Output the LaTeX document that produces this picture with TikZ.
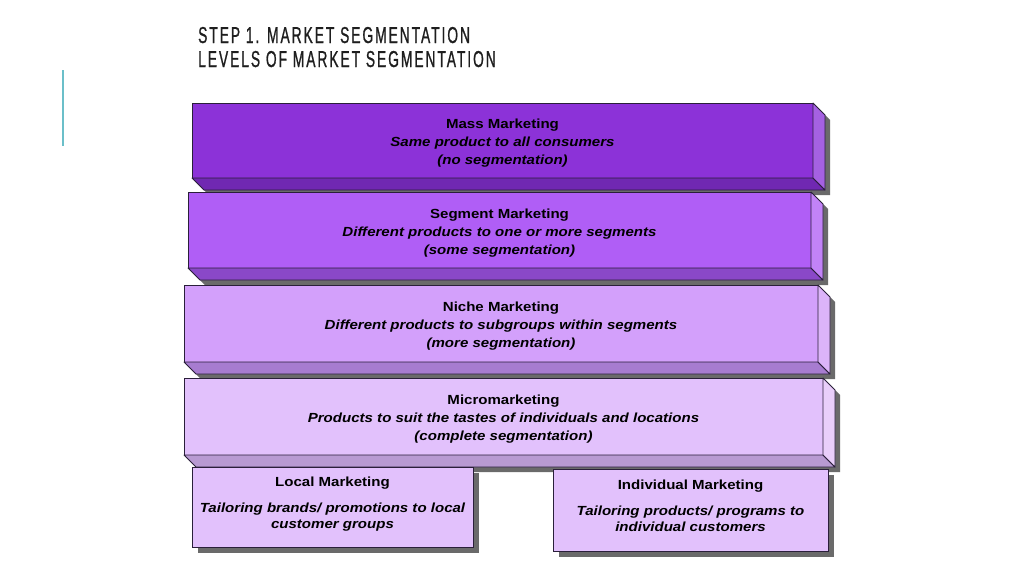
\documentclass[tikz,border=0pt]{standalone}
\usepackage{fontspec}
\setmainfont{Liberation Sans}
\newfontfamily\boxfont[FakeStretch=1.14]{Liberation Sans}
\newfontfamily\ttlfont[FakeStretch=0.6,LetterSpace=8.5,FakeBold=0.8]{Liberation Sans}
\definecolor{edgec}{HTML}{2A1F3A}
\definecolor{shadowc}{HTML}{6A6A6A}
\definecolor{titlec}{HTML}{1E1E1E}
\definecolor{tealc}{HTML}{6BBFC9}
\definecolor{fA}{HTML}{8C32D8}\definecolor{sA}{HTML}{A561E2}\definecolor{bA}{HTML}{7028B2}
\definecolor{fB}{HTML}{B05EF6}\definecolor{sB}{HTML}{C283F7}\definecolor{bB}{HTML}{8A48C8}
\definecolor{fC}{HTML}{D3A0FB}\definecolor{sC}{HTML}{DCB4F9}\definecolor{bC}{HTML}{A77CD0}
\definecolor{fD}{HTML}{E2C1FC}\definecolor{sD}{HTML}{E9CEFA}\definecolor{bD}{HTML}{B89AD2}
\tikzset{
  slab/.style={draw=edgec, line width=0.8pt, inner sep=0pt, outer sep=0pt},
  slabtext/.style={inner sep=0pt, align=center, text=black,
    font=\boxfont\bfseries\fontsize{13.2}{18}\selectfont},
  flatbox/.style={draw=edgec, line width=0.8pt, inner sep=0pt, outer sep=0pt, fill=fD},
  flattext/.style={inner sep=0pt, align=center, text=black,
    font=\boxfont\bfseries\fontsize{13.2}{16}\selectfont},
  face/.style={draw=edgec, line width=0.8pt, line join=round},
  ttl/.style={anchor=base west, inner sep=0pt, text=titlec, font=\ttlfont\fontsize{23}{24}\selectfont}
}
% #1 name, #2 x1, #3 y1, #4 x2, #5 y2, #6 front, #7 side, #8 bottom, #9 text
\newcommand\slab[9]{%
  \fill[shadowc] (#4+5,#3+5) -- (#4+17,#3+17) -- (#4+17,#5+17) -- (#2+17,#5+17) -- (#2+5,#5+5) -- cycle;
  \node[slab, fill=#6, minimum width={(#4-#2)*1pt}, minimum height={(#5-#3)*1pt}]
     (#1) at ({(#2+#4)/2},{(#3+#5)/2}) {};
  \draw[face, fill=#8] (#1.south west) -- (#1.south east)
     -- ([xshift=12pt,yshift=-12pt]#1.south east)
     -- ([xshift=12pt,yshift=-12pt]#1.south west) -- cycle;
  \draw[face, fill=#7] (#1.north east) -- ([xshift=12pt,yshift=-12pt]#1.north east)
     -- ([xshift=12pt,yshift=-12pt]#1.south east) -- (#1.south east) -- cycle;
  \node[slabtext] (#1-t) at ([yshift=-3pt]#1.center) {#9};
}
\begin{document}
\begin{tikzpicture}[x=1pt,y=-1pt]
\useasboundingbox[fill=white] (0,0) rectangle (1024,576);

% title
\node[ttl] (t1) at (198,43) {STEP 1. MARKET SEGMENTATION};
\node[ttl] (t2) at (198,67) {LEVELS OF MARKET SEGMENTATION};
\coordinate (lt) at (63,70);
\coordinate (lb) at (63,146);
\draw[tealc, line width=1.6pt] (lt) -- (lb);

\slab{mass}{192}{103}{813}{178}{fA}{sA}{bA}
  {Mass Marketing\\ \itshape Same product to all consumers\\ \itshape (no segmentation)}
\slab{seg}{188}{192}{811}{268}{fB}{sB}{bB}
  {Segment Marketing\\ \itshape Different products to one or more segments\\ \itshape (some segmentation)}
\slab{niche}{184}{285}{818}{362}{fC}{sC}{bC}
  {Niche Marketing\\ \itshape Different products to subgroups within segments\\ \itshape (more segmentation)}
\slab{micro}{184}{378}{823}{455}{fD}{sD}{bD}
  {Micromarketing\\ \itshape Products to suit the tastes of individuals and locations\\ \itshape (complete segmentation)}

% bottom boxes with shadows
\fill[shadowc] (198,473) rectangle (479,553);
\node[flatbox, minimum width=281pt, minimum height=80pt] (local) at (332.5,507) {};
\node[flattext] (local-t) at ([yshift=3pt]local.center)
  {Local Marketing\\[10pt] \itshape Tailoring brands/ promotions to local\\ \itshape customer groups};
\fill[shadowc] (559,475) rectangle (834,557);
\node[flatbox, minimum width=275pt, minimum height=82pt] (indiv) at (690.5,510) {};
\node[flattext] (indiv-t) at ([yshift=4pt]indiv.center)
  {Individual Marketing\\[10pt] \itshape Tailoring products/ programs to\\ \itshape individual customers};
\end{tikzpicture}
\end{document}
